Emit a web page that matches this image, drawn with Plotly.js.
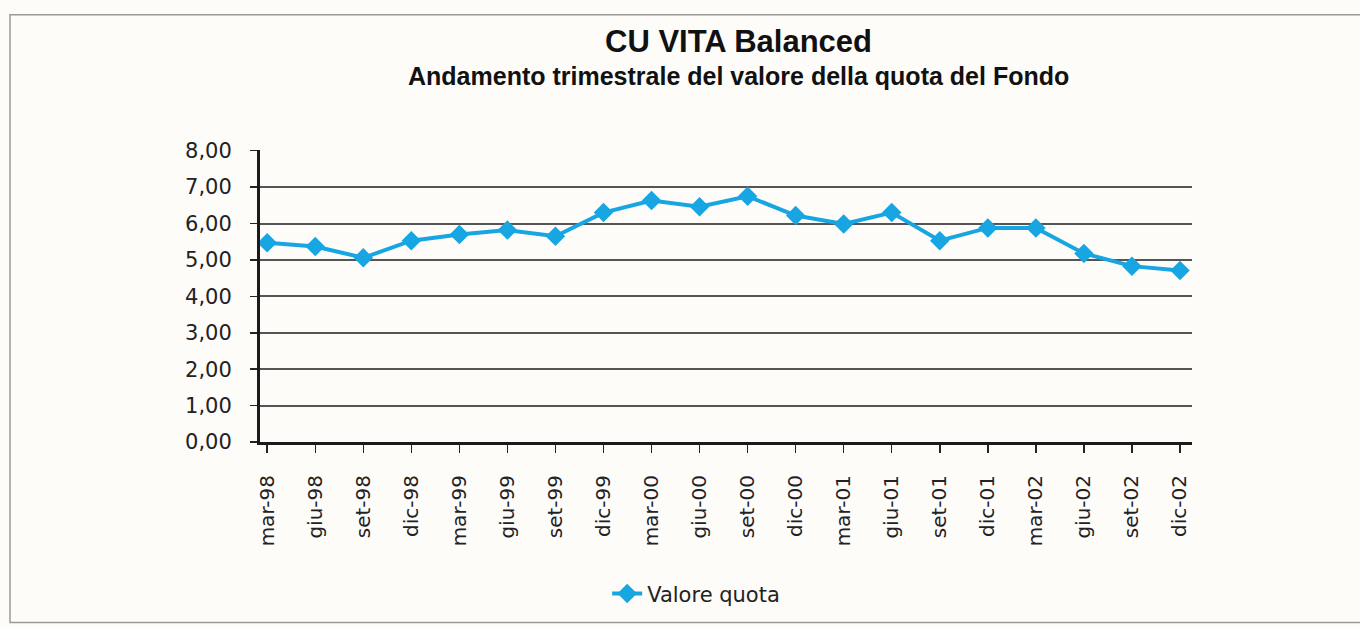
<!DOCTYPE html>
<html>
<head>
<meta charset="utf-8">
<script src="https://cdn.plot.ly/plotly-3.0.1.min.js"></script>
<style>
  html, body { margin: 0; padding: 0; background: #fdfcf9; }
  #chart { width: 1360px; height: 627px; }
</style>
</head>
<body>
<div id="chart"></div>
<script>
const categories = ["mar-98","giu-98","set-98","dic-98","mar-99","giu-99","set-99","dic-99",
  "mar-00","giu-00","set-00","dic-00","mar-01","giu-01","set-01","dic-01",
  "mar-02","giu-02","set-02","dic-02"];
const valoreQuota = [5.47, 5.37, 5.06, 5.53, 5.70, 5.82, 5.65, 6.30,
  6.63, 6.46, 6.75, 6.22, 5.99, 6.30, 5.53, 5.88,
  5.88, 5.18, 4.83, 4.71];
const yTicks = [0, 1, 2, 3, 4, 5, 6, 7, 8];
const seriesName = "Valore quota";
const titleText = "CU VITA Balanced";
const subtitleText = "Andamento trimestrale del valore della quota del Fondo";

const fontTitle = "'Liberation Sans', Arial, sans-serif";
const fontText = "'DejaVu Sans', 'Liberation Sans', Arial, sans-serif";
const blue = "#17a6e2";

const trace = {
  x: categories.map((c, i) => i),
  y: valoreQuota,
  type: "scatter",
  mode: "lines+markers",
  name: seriesName,
  line: { color: blue, width: 4 },
  marker: { symbol: "diamond", size: 15, color: blue },
  hoverinfo: "y"
};

const layout = {
  width: 1360, height: 627,
  margin: { l: 260, r: 168, t: 150, b: 181 },
  paper_bgcolor: "#fdfcf9",
  plot_bgcolor: "#fdfcf9",
  separators: ",.",
  showlegend: true,
  legend: {
    orientation: "h",
    x: 0.468, xanchor: "center",
    y: -0.52, yanchor: "middle",
    font: { family: fontText, size: 21, color: "#222" },
    bgcolor: "rgba(0,0,0,0)"
  },
  xaxis: {
    range: [-0.15, 19.25],
    tickmode: "array",
    tickvals: categories.map((c, i) => i),
    ticktext: categories,
    tickangle: -90,
    ticks: "outside", ticklen: 8, tickwidth: 1.5, tickcolor: "#222",
    ticklabelstandoff: 14,
    tickfont: { family: fontText, size: 20, color: "#222" },
    showgrid: false,
    showline: true, linecolor: "#1a1a1a", linewidth: 3,
    zeroline: false,
    fixedrange: true
  },
  yaxis: {
    range: [0, 8.02],
    tickmode: "array",
    tickvals: yTicks,
    ticktext: yTicks.map(v => v.toFixed(2).replace(".", ",")),
    ticks: "outside", ticklen: 7, tickwidth: 1.5, tickcolor: "#222",
    ticklabelstandoff: 14,
    tickfont: { family: fontText, size: 21, color: "#222" },
    showgrid: true, gridcolor: "#555", gridwidth: 2,
    showline: true, linecolor: "#1a1a1a", linewidth: 3,
    zeroline: false,
    fixedrange: true
  },
  annotations: [
    { text: "<b>" + titleText + "</b>", xref: "paper", yref: "paper",
      x: 0.513, y: 1.372, xanchor: "center", yanchor: "middle", showarrow: false,
      font: { family: fontTitle, size: 31, color: "#111" } },
    { text: "<b>" + subtitleText + "</b>", xref: "paper", yref: "paper",
      x: 0.513, y: 1.253, xanchor: "center", yanchor: "middle", showarrow: false,
      font: { family: fontTitle, size: 25, color: "#111" } }
  ],
  shapes: [
    { type: "rect", xref: "paper", yref: "paper", layer: "below",
      x0: (10 - 260) / 932, x1: (1362 - 260) / 932,
      y0: (446 - 629) / 296, y1: (446 - 13) / 296,
      line: { color: "#9a9a9a", width: 1.5 }, fillcolor: "rgba(0,0,0,0)" }
  ]
};

Plotly.newPlot("chart", [trace], layout, { displayModeBar: false, staticPlot: true });
</script>
</body>
</html>
